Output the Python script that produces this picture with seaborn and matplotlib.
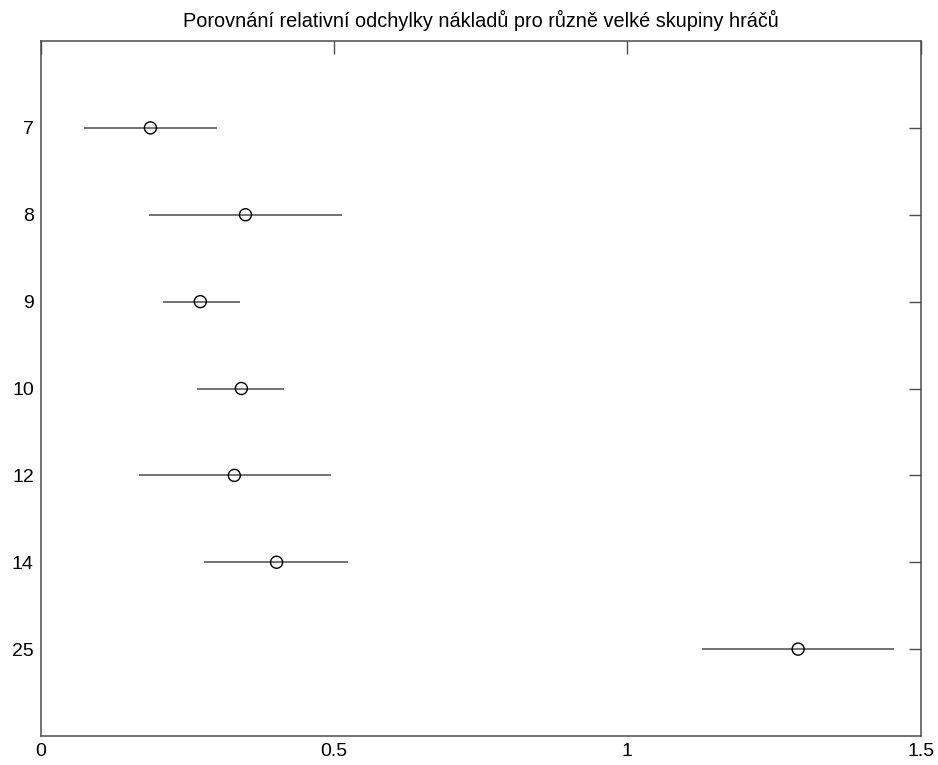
import pandas as pd
import matplotlib
matplotlib.use("Agg")
import matplotlib.pyplot as plt
import seaborn as sns

# --- DATA ---
groups = ["7", "8", "9", "10", "12", "14", "25"]
mean_dev = [0.187, 0.349, 0.272, 0.342, 0.330, 0.402, 1.291]
ci_low = [0.073, 0.184, 0.208, 0.267, 0.167, 0.278, 1.127]
ci_high = [0.300, 0.513, 0.339, 0.415, 0.494, 0.524, 1.454]
x_ticks = [0, 0.5, 1, 1.5]
x_tick_labels = ["0", "0.5", "1", "1.5"]

TITLE = "Porovnání relativní odchylky nákladů pro různě velké skupiny hráčů"


def main():
    df = pd.DataFrame({
        "group": groups,
        "pos": range(1, len(groups) + 1),
        "mean": mean_dev,
        "low": ci_low,
        "high": ci_high,
    })

    sns.set_theme(style="white")
    plt.rcParams["font.family"] = ["Liberation Sans", "DejaVu Sans"]

    fig = plt.figure(figsize=(9.38, 7.65), dpi=100)
    ax = fig.add_axes([0.0434, 0.0379, 0.9382, 0.9085])

    # interval lines
    ax.hlines(df["pos"], df["low"], df["high"], color="#4d4d4d", linewidth=1.1, zorder=2)

    # mean markers
    sns.scatterplot(
        data=df, x="mean", y="pos", ax=ax,
        marker="o", s=75, facecolor="none", edgecolor="black", linewidth=1.0, zorder=3,
    )

    ax.set_xlim(0, 1.5)
    ax.set_ylim(8, 0)
    ax.set_xticks(x_ticks)
    ax.set_xticklabels(x_tick_labels)
    ax.set_yticks(df["pos"])
    ax.set_yticklabels(df["group"])
    ax.set_xlabel("")
    ax.set_ylabel("")

    ax.tick_params(direction="in", length=9, width=1, color="#4d4d4d",
                   top=True, right=True, labelsize=14, pad=5, labelcolor="black")
    for sp in ax.spines.values():
        sp.set_color("#4d4d4d")
        sp.set_linewidth(1.1)

    ax.set_title(TITLE, fontsize=14.3, pad=10, color="black")

    fig.savefig("out.png", dpi=100)


if __name__ == "__main__":
    main()
